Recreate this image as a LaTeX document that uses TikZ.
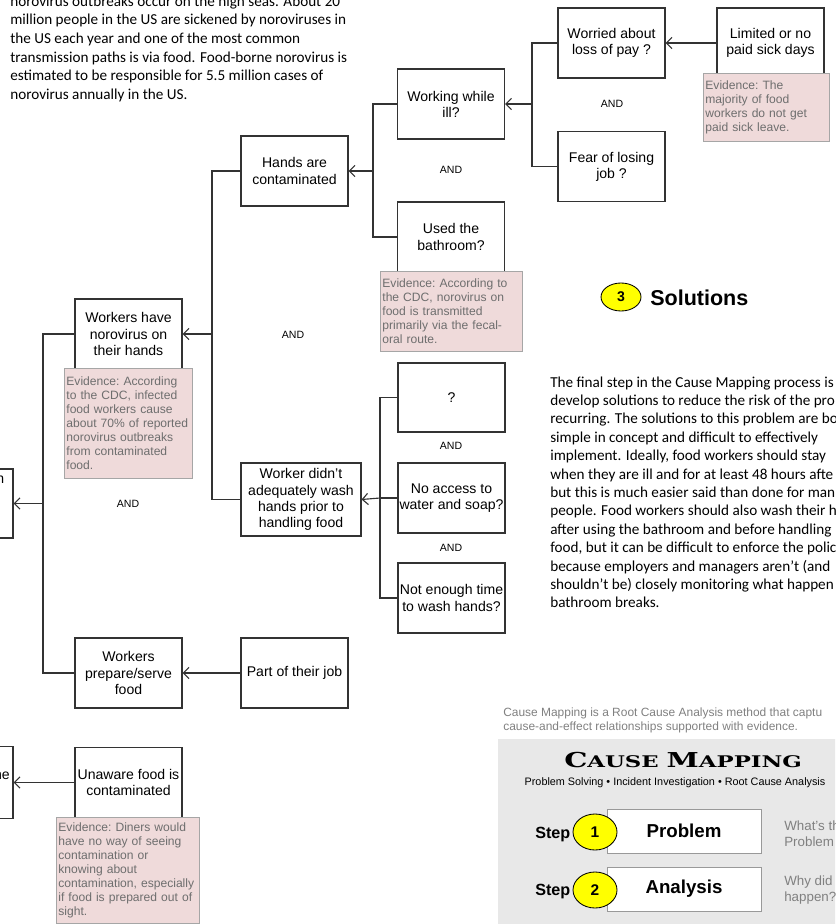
\documentclass[tikz,border=0pt]{standalone}
\usepackage{fontspec}
\setsansfont{Liberation Sans}
\newfontfamily\bodyfont{Carlito}
\newfontfamily\titlefont{DejaVu Serif}
\usetikzlibrary{arrows.meta,shapes.geometric}

\definecolor{linegray}{HTML}{333333}
\definecolor{evfill}{HTML}{EFDADA}
\definecolor{evline}{HTML}{A6A6A6}
\definecolor{evtext}{HTML}{6E6E6E}
\definecolor{softtext}{HTML}{808080}
\definecolor{panelgray}{HTML}{E8E8E8}
\definecolor{stepyellow}{HTML}{FFFF00}

\newcommand{\evfont}{\fontsize{8.6}{10}\selectfont\frenchspacing\hyphenpenalty10000\relax}

\tikzset{
  causebox/.style={draw=linegray, line width=0.8pt, fill=white, minimum width=2.675cm,
    minimum height=1.75cm, align=center, inner sep=1pt, font=\fontsize{10}{11.5}\selectfont},
  evidence/.style={draw=evline, fill=evfill, text=evtext, anchor=north west, align=left,
    inner sep=1.5pt, font=\evfont},
  andlabel/.style={font=\fontsize{7.5}{8}\selectfont},
  link/.style={draw=linegray, line width=0.8pt},
  causearrow/.style={link, -{Straight Barb[length=4pt, width=8pt]}},
  para/.style={anchor=base west, inner sep=0pt, font=\bodyfont\fontsize{10.8}{13}\selectfont},
  stepoval/.style={ellipse, draw=black, fill=stepyellow, line width=0.6pt, inner sep=0pt,
    font=\bfseries\fontsize{11}{11}\selectfont},
  stepcard/.style={draw=gray!80, fill=white, line width=0.6pt, minimum width=3.85cm,
    minimum height=1.1cm, font=\bfseries\fontsize{13.3}{14}\selectfont},
  stephint/.style={anchor=west, align=left, text=softtext, inner sep=0pt,
    font=\fontsize{9.5}{11.5}\selectfont},
}

\begin{document}
\sffamily
\begin{tikzpicture}[x=0.025cm, y=-0.025cm]
  \useasboundingbox (0,0) rectangle (835,924);
  \clip (0,0) rectangle (835,924);

  % Intro paragraph (top left)
  \foreach \ln [count=\i] in {
      {norovirus outbreaks occur on the high seas.  About 20},
      {million people in the US are sickened by noroviruses in},
      {the US each year and one of the most common},
      {transmission paths is via food.  Food-borne norovirus is},
      {estimated to be responsible for 5.5 million cases of},
      {norovirus annually in the US.}}
    \node [para] (intro\i) at (10, {6.4+18.6*(\i-1)}) {\ln};

  % Cause boxes
  \node [causebox] (worried) at (611.5, 43) {Worried about\\loss of pay ?};
  \node [causebox] (limited) at (770.5, 43) {Limited or no\\paid sick days};
  \node [causebox] (fear) at (611.5, 166.5) {Fear of losing\\job ?};
  \node [causebox] (working) at (451, 104) {Working while\\ill?};
  \node [causebox] (used) at (451, 237) {Used the\\bathroom?};
  \node [causebox] (hands) at (294.5, 171) {Hands are\\contaminated};
  \node [causebox] (workers) at (128.5, 334) {Workers have\\norovirus on\\their hands};
  \node [causebox, minimum width=3cm, minimum height=1.825cm] (didnt) at (301, 499.5)
    {Worker didn't\\adequately wash\\hands prior to\\handling food};
  \node [causebox, minimum height=1.725cm] (unknown) at (451.5, 397.5) {?};
  \node [causebox] (noaccess) at (451.5, 498) {No access to\\water and soap?};
  \node [causebox] (notime) at (451.5, 598) {Not enough time\\to wash hands?};
  \node [causebox] (prepare) at (128.5, 673) {Workers\\prepare/serve\\food};
  \node [causebox] (job) at (294.5, 673) {Part of their job};
  \node [causebox] (unaware) at (128.5, 782.5) {Unaware food is\\contaminated};
  \node [causebox, minimum height=1.725cm] (effectA) at (-40.5, 503.5) {};
  \node [causebox, minimum height=1.8cm] (effectB) at (-40.5, 782.5) {};
  \node [anchor=base east, inner sep=0pt, font=\fontsize{10}{11.5}\selectfont] (effectAtxt) at (4.5, 483) {n};
  \node [anchor=base east, inner sep=0pt, font=\fontsize{10}{11.5}\selectfont] (effectBtxt) at (10, 779) {ne};

  % AND labels
  \node [andlabel] (and1) at (612, 104) {AND};
  \node [andlabel] (and2) at (451, 170) {AND};
  \node [andlabel] (and3) at (293, 335) {AND};
  \node [andlabel] (and4) at (128, 504) {AND};
  \node [andlabel] (and5) at (451, 446) {AND};
  \node [andlabel] (and6) at (451, 548) {AND};

  % Connectors
  \coordinate (jwork) at (532, 104);
  \coordinate (jhands) at (373, 171);
  \coordinate (jnoro) at (212, 334);
  \coordinate (jwash) at (380, 498);
  \coordinate (jeffect) at (43, 503.5);
  \draw [causearrow] (limited.west) -- (worried.east);
  \draw [link] (worried.west) -| (jwork);
  \draw [link] (fear.west) -| (jwork);
  \draw [causearrow] (jwork) -- (working.east);
  \draw [link] (working.west) -| (jhands);
  \draw [link] (used.west) -| (jhands);
  \draw [causearrow] (jhands) -- (hands.east);
  \draw [link] (hands.west) -| (jnoro);
  \draw [link] (didnt.west) -| (jnoro);
  \draw [causearrow] (jnoro) -- (workers.east);
  \draw [link] (unknown.west) -| (jwash);
  \draw [link] (noaccess.west) -| (jwash);
  \draw [link] (notime.west) -| (jwash);
  \draw [causearrow] (jwash) -- (didnt.east);
  \draw [link] (workers.west) -| (jeffect);
  \draw [link] (prepare.west) -| (jeffect);
  \draw [causearrow] (jeffect) -- (effectA.east);
  \draw [causearrow] (job.west) -- (prepare.east);
  \draw [causearrow] (unaware.west) -- (effectB.east);

  % Evidence notes
  \node [evidence, text width=3.04cm, minimum height=1.7cm] (evsick) at (703, 73)
    {Evidence: The\\majority of food\\workers do not get\\paid sick leave.};
  \node [evidence, text width=3.44cm, minimum height=2cm] (evbath) at (380, 271)
    {Evidence: According to\\the CDC, norovirus on\\food is transmitted\\primarily via the fecal-\\oral route.};
  \node [evidence, text width=3.09cm, minimum height=2.75cm] (evworkers) at (64, 368)
    {Evidence: According\\to the CDC, infected\\food workers cause\\about 70\% of reported\\norovirus outbreaks\\from contaminated\\food.};
  \node [evidence, text width=3.47cm, minimum height=2.65cm] (evdiners) at (56, 817)
    {Evidence: Diners would\\have no way of seeing\\contamination or\\knowing about\\contamination, especially\\if food is prepared out of\\sight.};

  % Solutions
  \node [stepoval, minimum width=1cm, minimum height=0.7cm, font=\bfseries\fontsize{10}{10}\selectfont] (sol3) at (621, 297) {3};
  \node [anchor=west, inner sep=0pt, font=\bfseries\fontsize{15.3}{16}\selectfont] (soltitle) at (650, 298) {Solutions};
  \foreach \ln [count=\i] in {
      {The final step in the Cause Mapping process is},
      {develop solutions to reduce the risk of the pro},
      {recurring.  The solutions to this problem are bo},
      {simple in concept and difficult to effectively},
      {implement.  Ideally, food workers should stay},
      {when they are ill and for at least 48 hours afte},
      {but this is much easier said than done for man},
      {people.  Food workers should also wash their h},
      {after using the bathroom and before handling},
      {food, but it can be difficult to enforce the polic},
      {because employers and managers aren’t (and},
      {shouldn’t be) closely monitoring what happen},
      {bathroom breaks.}}
    \node [para] (sol\i) at (550, {387+18.4*(\i-1)}) {\ln};

  % Cause Mapping panel
  \node [anchor=west, align=left, text=softtext, inner sep=0pt, font=\fontsize{8.5}{10}\selectfont] (cmintro) at (503, 720)
    {Cause Mapping is a Root Cause Analysis method that captu\\cause-and-effect relationships supported with evidence.};
  \fill [panelgray] (498, 739) rectangle (900, 1000);
  \node (cmtitle) at (683, 760) {\titlefont\bfseries\scalebox{1.42}[1]{\fontsize{14.6}{15}\selectfont C\fontsize{11.4}{12}\selectfont AUSE
    \fontsize{14.6}{15}\selectfont M\fontsize{11.4}{12}\selectfont APPING}};
  \node [font=\fontsize{7.7}{8}\selectfont] (cmsub) at (675, 783)
    {Problem Solving \textbullet{} Incident Investigation \textbullet{} Root Cause Analysis};

  \node [stepcard] (card1) at (684, 831) {Problem};
  \node [stepoval, minimum width=1.1cm, minimum height=0.9cm] (oval1) at (595, 832) {1};
  \node [anchor=west, inner sep=0pt, font=\bfseries\fontsize{11.5}{12}\selectfont] (steplbl1) at (535, 835) {Step};
  \node [stephint] (hint1) at (784, 834) {What's th\\Problem};

  \node [stepcard] (card2) at (684, 889) {Analysis};
  \node [stepoval, minimum width=1.1cm, minimum height=0.9cm] (oval2) at (595, 890) {2};
  \node [anchor=west, inner sep=0pt, font=\bfseries\fontsize{11.5}{12}\selectfont] (steplbl2) at (535, 892) {Step};
  \node [stephint] (hint2) at (784, 890) {Why did\\happen?};
\end{tikzpicture}
\end{document}
